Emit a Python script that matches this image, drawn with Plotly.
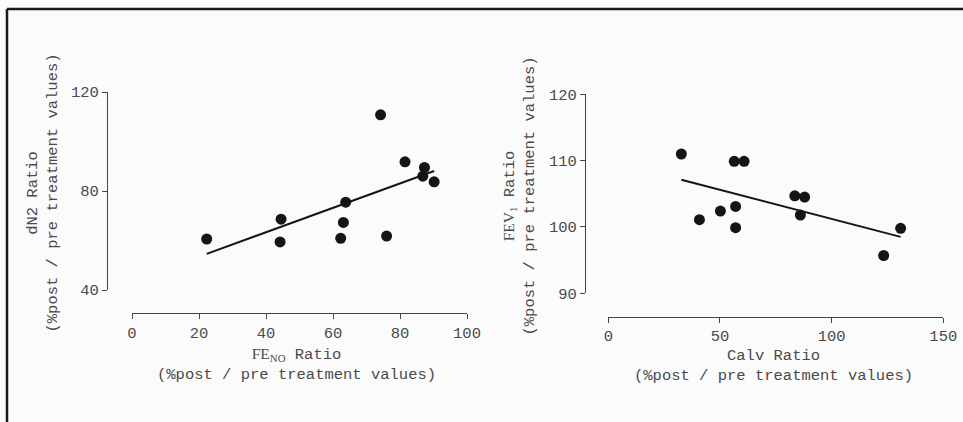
import numpy as np
import plotly.graph_objects as go

# Panel A: FeNO ratio vs dN2 ratio
feno_ratio = [22.3, 44.5, 44.2, 63.8, 63.1, 62.3, 74.2, 76.0, 81.5, 87.3, 86.8, 90.2]
dn2_ratio = [60.6, 68.6, 59.4, 75.5, 67.3, 60.9, 110.8, 61.8, 91.8, 89.5, 86.0, 83.7]

# Panel B: Calv ratio vs FEV1 ratio
calv_ratio = [32.7, 40.8, 50.2, 56.4, 60.8, 57.0, 57.0, 83.5, 87.9, 86.0, 123.3, 130.9]
fev1_ratio = [111.0, 101.1, 102.4, 109.9, 109.9, 103.1, 99.9, 104.7, 104.5, 101.8, 95.7, 99.8]

left_xticks = [0, 20, 40, 60, 80, 100]
left_yticks = [40, 80, 120]
right_xticks = [0, 50, 100, 150]
right_yticks = [90, 100, 110, 120]

W, H = 963, 422
INK = "#151515"
TXT = "#4a4a4a"
MONO = "Liberation Mono, Courier New, monospace"
SERIF = "Liberation Serif, Times New Roman, serif"


def px_x(p):
    return p / W


def px_y(p):
    return 1 - p / H


def fit_line(x, y):
    slope, icpt = np.polyfit(x, y, 1)
    xs = np.array([min(x), max(x)])
    return xs, slope * xs + icpt


fig = go.Figure()

for xs, ys, xa, ya in [(feno_ratio, dn2_ratio, "x", "y"), (calv_ratio, fev1_ratio, "x2", "y2")]:
    fig.add_trace(go.Scatter(x=xs, y=ys, mode="markers", xaxis=xa, yaxis=ya,
                             marker=dict(size=11, color=INK), showlegend=False,
                             cliponaxis=False))
    lx, ly = fit_line(xs, ys)
    fig.add_trace(go.Scatter(x=lx, y=ly, mode="lines", xaxis=xa, yaxis=ya,
                             line=dict(color=INK, width=2), showlegend=False))

axis_common = dict(showgrid=False, zeroline=False, showline=True, linecolor="#444",
                   linewidth=1.2, ticks="outside", ticklen=5, tickwidth=1.2, tickcolor="#444",
                   tickfont=dict(family=MONO, size=15.5, color=TXT), fixedrange=True,
                   automargin=False)

fig.update_layout(
    width=W, height=H, autosize=False,
    margin=dict(l=0, r=0, t=0, b=0, pad=0, autoexpand=False),
    paper_bgcolor="#fbfbfb", plot_bgcolor="rgba(0,0,0,0)",
    xaxis=dict(axis_common, domain=[px_x(132), px_x(467)], range=[0, 100],
               tickvals=left_xticks, anchor="free", position=px_y(313)),
    yaxis=dict(axis_common, domain=[px_y(290), px_y(92)], range=[40, 120],
               tickvals=left_yticks, anchor="free", position=px_x(107)),
    xaxis2=dict(axis_common, domain=[px_x(608.3), px_x(943.3)], range=[0, 150],
                tickvals=right_xticks, anchor="free", position=px_y(316.7)),
    yaxis2=dict(axis_common, domain=[px_y(293.3), px_y(94.3)], range=[90, 120],
                tickvals=right_yticks, anchor="free", position=px_x(585)),
)

sub_line = "(%post / pre treatment values)"
titles = [
    ("dN2 Ratio<br>" + sub_line, 42.5, 193, -90),
    (f"<span style='font-family:{SERIF}'>FEV<sub>1</sub></span> Ratio<br>" + sub_line, 518.5, 196, -90),
    (f"<span style='font-family:{SERIF}'>FE<sub>NO</sub></span> Ratio<br>" + sub_line, 296, 364, 0),
    ("Calv Ratio<br>" + sub_line, 773.5, 366, 0),
]
for text, cx, cy, ang in titles:
    fig.add_annotation(text=text, xref="paper", yref="paper", x=px_x(cx), y=px_y(cy),
                       xanchor="center", yanchor="middle", showarrow=False, textangle=ang,
                       font=dict(family=MONO, size=15.5, color=TXT), align="center")

# frame along the top and left edges
fig.add_shape(type="line", xref="paper", yref="paper", x0=px_x(7), x1=1.0,
              y0=px_y(9), y1=px_y(9), line=dict(color="#1a1a1a", width=2.5))
fig.add_shape(type="line", xref="paper", yref="paper", x0=px_x(7), x1=px_x(7),
              y0=px_y(9), y1=0.0, line=dict(color="#1a1a1a", width=2.5))

fig.write_html("out.html")
